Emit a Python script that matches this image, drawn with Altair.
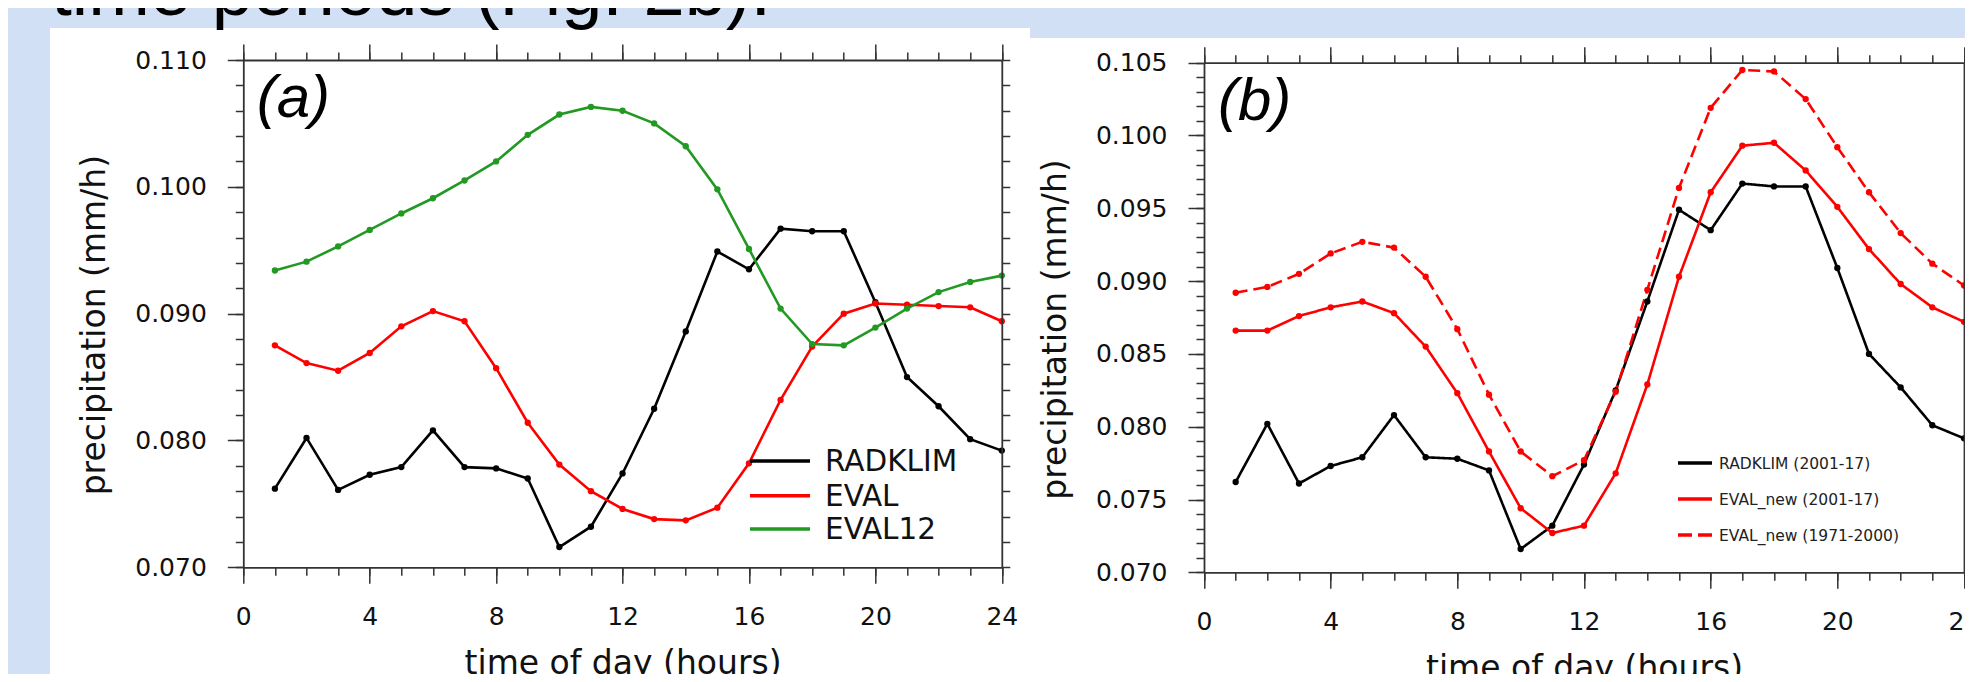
import altair as alt
import pandas as pd

# ---------------- data ----------------
hours = list(range(1, 25))

# panel (a)
radklim = [0.0762, 0.0802, 0.0761, 0.0773, 0.0779, 0.0808, 0.0779, 0.0778, 0.0770, 0.0716,
           0.0732, 0.0774, 0.0825, 0.0886, 0.0949, 0.0935, 0.0967, 0.0965, 0.0965, 0.0909,
           0.0850, 0.0827, 0.0801, 0.0792]
eval_a = [0.0875, 0.0861, 0.0855, 0.0869, 0.0890, 0.0902, 0.0894, 0.0857, 0.0814, 0.0781,
          0.0760, 0.0746, 0.0738, 0.0737, 0.0747, 0.0782, 0.0832, 0.0874, 0.0900, 0.0908,
          0.0907, 0.0906, 0.0905, 0.0894]
eval12 = [0.0934, 0.0941, 0.0953, 0.0966, 0.0979, 0.0991, 0.1005, 0.1020, 0.1041, 0.1057,
          0.1063, 0.1060, 0.1050, 0.1032, 0.0998, 0.0951, 0.0904, 0.0876, 0.0875, 0.0889,
          0.0904, 0.0917, 0.0925, 0.0930]
series_a = ["RADKLIM", "EVAL", "EVAL12"]
colors_a = ["#000000", "#ff0000", "#229922"]

# panel (b)
eval_new = [0.0866, 0.0866, 0.0876, 0.0882, 0.0886, 0.0878, 0.0855, 0.0823, 0.0783, 0.0744,
            0.0727, 0.0732, 0.0768, 0.0829, 0.0903, 0.0961, 0.0993, 0.0995, 0.0976, 0.0951,
            0.0922, 0.0898, 0.0882, 0.0872]
eval_new_old = [0.0892, 0.0896, 0.0905, 0.0919, 0.0927, 0.0923, 0.0903, 0.0867, 0.0822, 0.0783,
                0.0766, 0.0777, 0.0824, 0.0894, 0.0964, 0.1019, 0.1045, 0.1044, 0.1025, 0.0992,
                0.0961, 0.0933, 0.0912, 0.0897]
series_b = ["RADKLIM (2001-17)", "EVAL_new (2001-17)", "EVAL_new (1971-2000)"]
colors_b = ["#000000", "#ff0000", "#ff0000"]
dashes_b = [[1, 0], [1, 0], [12, 6]]

x_major = [0, 4, 8, 12, 16, 20, 24]
x_minor = list(range(0, 25))
ya_major = [0.070, 0.080, 0.090, 0.100, 0.110]
ya_minor = [round(0.070 + 0.002 * i, 3) for i in range(21)]
yb_major = [0.070, 0.075, 0.080, 0.085, 0.090, 0.095, 0.100, 0.105]
yb_minor = [round(0.070 + 0.001 * i, 3) for i in range(36)]

x_title = "time of day (hours)"
y_title = "precipitation (mm/h)"
slide_text = "time periods (Fig. 2b)."

df_a = pd.DataFrame({
    "hour": hours * 3,
    "value": radklim + eval_a + eval12,
    "series": [series_a[0]] * 24 + [series_a[1]] * 24 + [series_a[2]] * 24,
})
df_b = pd.DataFrame({
    "hour": hours * 3,
    "value": radklim + eval_new + eval_new_old,
    "series": [series_b[0]] * 24 + [series_b[1]] * 24 + [series_b[2]] * 24,
})
one = pd.DataFrame({"k": [0]})

# ---------------- geometry (pixels, relative to plot origin) ----------------
W, H = 1720.7, 507.3
AX_W = 758.5           # panel a width
BX0, BX1 = 960.7, 1720.7
BY_TOP, BY_BOT = 2.7, 512.3

FONT = "DejaVu Sans"
AXC = "#333333"


def axis(orient, values, tick, offset=0, labels=False, domain=False, title=None,
         fmt=None, title_x=None, title_y=None):
    kw = dict(orient=orient, values=values, tickSize=tick, tickColor=AXC, tickWidth=1.5,
              domain=domain, domainColor=AXC, domainWidth=1.8, labels=labels, grid=False,
              offset=offset, title=title, zindex=2)
    if labels:
        kw.update(labelFont=FONT, labelFontSize=25, labelColor="#111111", labelPadding=21,
                  labelFlush=False, labelOverlap=False)
        if fmt:
            kw["format"] = fmt
    if title is not None:
        kw.update(titleFont=FONT, titleFontSize=33, titleFontWeight="normal",
                  titleColor="#111111", titleBaseline="alphabetic")
        if title_x is not None:
            kw["titleX"] = title_x
        if title_y is not None:
            kw["titleY"] = title_y
    return alt.Axis(**kw)


def panel(df, xs, ys, series, colors, dashes, yvals_major, yvals_minor,
          off_left, off_right, off_top, off_bottom, title_y_center):
    color = alt.Color("series:N", scale=alt.Scale(domain=series, range=colors), legend=None)
    enc_extra = {}
    if dashes is not None:
        enc_extra["strokeDash"] = alt.StrokeDash(
            "series:N", scale=alt.Scale(domain=series, range=dashes), legend=None)
    lines = alt.Chart(df).mark_line(strokeWidth=2.6).encode(
        x=alt.X("hour:Q", scale=xs,
                axis=axis("bottom", x_major, 16, offset=off_bottom, labels=True, domain=True,
                          title=x_title, title_y=106)),
        y=alt.Y("value:Q", scale=ys,
                axis=axis("left", yvals_major, 16, offset=off_left, labels=True, domain=True,
                          fmt=".3f", title=y_title, title_x=-139, title_y=title_y_center)),
        color=color,
        detail="series:N",
        **enc_extra,
    )
    points = alt.Chart(df).mark_circle(size=40, opacity=1).encode(
        x=alt.X("hour:Q", scale=xs, axis=axis("bottom", x_minor, 8, offset=off_bottom)),
        y=alt.Y("value:Q", scale=ys, axis=axis("left", yvals_minor, 8, offset=off_left)),
        color=color,
    )
    frame1 = alt.Chart(df).mark_point(opacity=0).encode(
        x=alt.X("hour:Q", scale=xs,
                axis=axis("top", x_major, 16, offset=off_top, domain=True)),
        y=alt.Y("value:Q", scale=ys,
                axis=axis("right", yvals_minor, 8, offset=off_right, domain=True)),
    )
    frame2 = alt.Chart(df).mark_point(opacity=0).encode(
        x=alt.X("hour:Q", scale=xs, axis=axis("top", x_minor, 8, offset=off_top)),
        y=alt.Y("value:Q", scale=ys, axis=None),
    )
    return alt.layer(lines, points, frame1, frame2).resolve_axis(x="independent", y="independent")


xa = alt.Scale(domain=[0, 24], range=[0, AX_W], nice=False, zero=False)
ya = alt.Scale(domain=[0.070, 0.110], range=[H, 0], nice=False, zero=False)
xb = alt.Scale(domain=[0, 24], range=[BX0, BX1], nice=False, zero=False)
yb = alt.Scale(domain=[0.070, 0.105], range=[BY_BOT, BY_TOP], nice=False, zero=False)

pa = panel(df_a, xa, ya, series_a, colors_a, None, ya_major, ya_minor,
           off_left=0, off_right=-(W - AX_W), off_top=0, off_bottom=0, title_y_center=264.6)
pb = panel(df_b, xb, yb, series_b, colors_b, dashes_b, yb_major, yb_minor,
           off_left=-BX0, off_right=0, off_top=-BY_TOP, off_bottom=BY_BOT - H,
           title_y_center=269)

# ---------------- slide decoration ----------------
bg_a = alt.Chart(one).mark_rect(color="white").encode(
    x=alt.value(-193.3), x2=alt.value(786.7), y=alt.value(-32), y2=alt.value(700))
bg_b = alt.Chart(one).mark_rect(color="white").encode(
    x=alt.value(786.7), x2=alt.value(1800), y=alt.value(-22), y2=alt.value(700))
slide_title = alt.Chart(one).mark_text(
    font="Liberation Sans", fontSize=74, align="left", baseline="alphabetic", color="black"
).encode(x=alt.value(-192), y=alt.value(-45), text=alt.value(slide_text))

# panel labels
lab_a = alt.Chart(one).mark_text(
    font="Liberation Sans", fontStyle="italic", fontSize=60, align="left", baseline="alphabetic",
    color="black").encode(x=alt.value(13.4), y=alt.value(57.3), text=alt.value("(a)"))
lab_b = alt.Chart(one).mark_text(
    font="Liberation Sans", fontStyle="italic", fontSize=60, align="left", baseline="alphabetic",
    color="black").encode(x=alt.value(974.7), y=alt.value(60), text=alt.value("(b)"))

# manual legends
legend_layers = []
rows_a = [401, 435.7, 469]
for name, col, yy in zip(series_a, colors_a, rows_a):
    legend_layers.append(alt.Chart(one).mark_rule(color=col, strokeWidth=3.4).encode(
        x=alt.value(506.7), x2=alt.value(566.7), y=alt.value(yy)))
    legend_layers.append(alt.Chart(one).mark_text(
        font=FONT, fontSize=29.5, align="left", baseline="middle", color="#111111").encode(
        x=alt.value(581.7), y=alt.value(yy + 1), text=alt.value(name)))
rows_b = [403, 439, 475]
for name, col, dsh, yy in zip(series_b, colors_b, dashes_b, rows_b):
    legend_layers.append(alt.Chart(one).mark_rule(color=col, strokeWidth=3.4, strokeDash=[14, 6] if dsh[1] else [1, 0]).encode(
        x=alt.value(1434.7), x2=alt.value(1468.7), y=alt.value(yy)))
    legend_layers.append(alt.Chart(one).mark_text(
        font=FONT, fontSize=15.5, align="left", baseline="middle", color="#222222").encode(
        x=alt.value(1475.7), y=alt.value(yy + 1), text=alt.value(name)))

chart = alt.layer(
    bg_a, bg_b, slide_title, pa, pb, lab_a, lab_b, *legend_layers
).resolve_scale(
    x="independent", y="independent", color="independent", strokeDash="independent"
).resolve_axis(
    x="independent", y="independent"
).properties(
    width=W, height=H,
    autosize=alt.AutoSizeParams(type="none"),
    padding={"left": 235.3, "top": 52, "right": 1, "bottom": 106.7},
    background="#d2e0f5",
).configure_view(stroke=None)

chart.save("out.html", embed_options={"renderer": "svg", "actions": False})
